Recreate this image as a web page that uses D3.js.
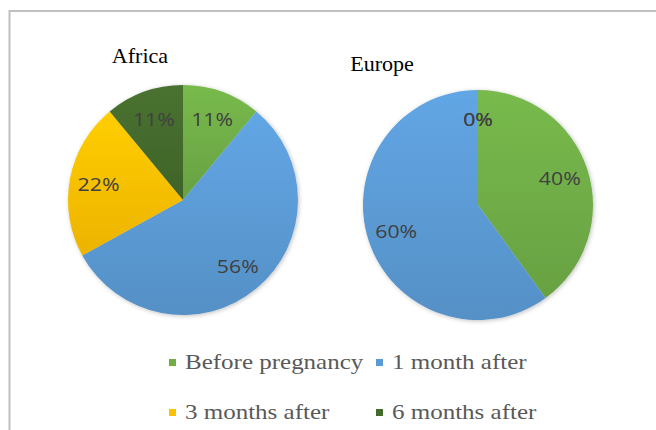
<!DOCTYPE html>
<html>
<head>
<meta charset="utf-8">
<script src="https://cdn.jsdelivr.net/npm/d3@7"></script>
<style>
  body { margin: 0; background: #fff; }
  svg { display: block; }
</style>
</head>
<body>
<div class="chart"></div>
<script>
// data
var categories = ["Before pregnancy", "1 month after", "3 months after", "6 months after"];
var regions = ["Africa", "Europe"];
var africaValues = [11, 56, 22, 11];
var europeValues = [40, 60, 0, 0];
var colors = ["#70ad47", "#5b9bd5", "#ffc000", "#446a2d"];

var svgWidth = 656;
var svgHeight = 430;

var svg = d3
  .select(".chart")
  .append("svg")
  .attr("width", svgWidth)
  .attr("height", svgHeight);

var defs = svg.append("defs");

// soft shadow like the office chart
var shadow = defs.append("filter")
  .attr("id", "shadow")
  .attr("x", "-10%").attr("y", "-10%")
  .attr("width", "120%").attr("height", "120%");
shadow.append("feDropShadow")
  .attr("dx", 1).attr("dy", 1)
  .attr("stdDeviation", 2)
  .attr("flood-color", "#000")
  .attr("flood-opacity", 0.25);

// slight vertical gradient on each colour
colors.forEach(function (c, i) {
  var g = defs.append("linearGradient")
    .attr("id", "grad" + i)
    .attr("x1", 0).attr("y1", 0).attr("x2", 0).attr("y2", 1);
  g.append("stop").attr("offset", "0%").attr("stop-color", d3.color(c).brighter(0.2));
  g.append("stop").attr("offset", "100%").attr("stop-color", d3.color(c).darker(0.2));
});

// frame (only top and left edges are inside the picture)
svg.append("rect")
  .attr("x", 9.5)
  .attr("y", 11)
  .attr("width", 700)
  .attr("height", 500)
  .attr("fill", "none")
  .attr("stroke", "#c0c0c0")
  .attr("stroke-width", 2);

var radius = 115;
var pie = d3.pie().sort(null).value(function (d) { return d; });
var arc = d3.arc().innerRadius(0).outerRadius(radius);
var labelArc = d3.arc().innerRadius(86).outerRadius(86);

var charts = [
  { name: regions[0], values: africaValues, cx: 183, cy: 200, tx: 140, ty: 63 },
  { name: regions[1], values: europeValues, cx: 478, cy: 205, tx: 382, ty: 71 }
];

charts.forEach(function (chart) {
  var total = d3.sum(chart.values);

  svg.append("text")
    .attr("transform", `translate(${chart.tx}, ${chart.ty}) scale(1.05, 1)`)
    .attr("text-anchor", "middle")
    .attr("font-family", "'Liberation Serif', 'Times New Roman', serif")
    .attr("font-size", 21)
    .attr("fill", "#000")
    .text(chart.name);

  var g = svg.append("g")
    .attr("transform", `translate(${chart.cx}, ${chart.cy})`);

  var arcs = pie(chart.values);

  g.append("g")
    .attr("filter", "url(#shadow)")
    .selectAll("path")
    .data(arcs)
    .enter()
    .append("path")
    .attr("d", arc)
    .attr("fill", function (d, i) { return "url(#grad" + i + ")"; });

  g.selectAll("text.lbl")
    .data(arcs)
    .enter()
    .append("text")
    .attr("class", "lbl")
    .attr("transform", function (d) {
      var p = labelArc.centroid(d);
      return `translate(${p[0]}, ${p[1]}) scale(1.12, 1)`;
    })
    .attr("text-anchor", "middle")
    .attr("dy", "0.35em")
    .attr("font-family", "'Open Sans', sans-serif")
    .attr("font-size", 19)
    .attr("fill", "#404040")
    .text(function (d) { return Math.round(d.data / total * 100) + "%"; });
});

// legend, two rows of two
var legendPos = [
  { x: 185, y: 369 },
  { x: 392, y: 369 },
  { x: 185, y: 419 },
  { x: 392, y: 419 }
];

var legend = svg.selectAll("g.legend")
  .data(categories)
  .enter()
  .append("g")
  .attr("class", "legend")
  .attr("transform", function (d, i) {
    return `translate(${legendPos[i].x}, ${legendPos[i].y})`;
  });

legend.append("rect")
  .attr("x", -16)
  .attr("y", -10)
  .attr("width", 7)
  .attr("height", 7)
  .attr("fill", function (d, i) { return colors[i]; });

legend.append("text")
  .attr("transform", "scale(1.19, 1)")
  .attr("font-family", "'Liberation Serif', 'Times New Roman', serif")
  .attr("font-size", 21)
  .attr("fill", "#595959")
  .text(function (d) { return d; });
</script>
</body>
</html>
